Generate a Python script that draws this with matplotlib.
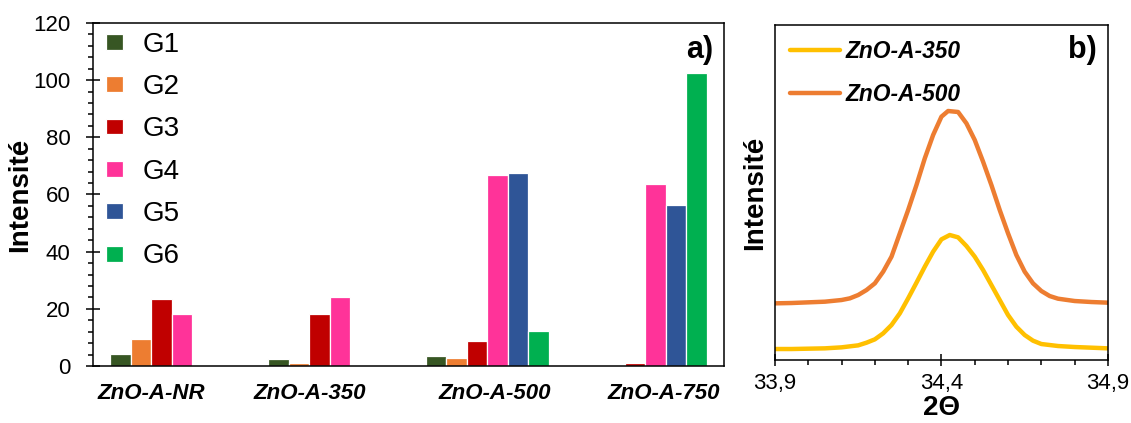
import numpy as np
import matplotlib
matplotlib.use('Agg')
import matplotlib.pyplot as plt
from matplotlib.ticker import MultipleLocator

plt.rcParams['font.family'] = ['Liberation Sans', 'DejaVu Sans']

# ---- data, panel a)
samples = ['ZnO-A-NR', 'ZnO-A-350', 'ZnO-A-500', 'ZnO-A-750']
groups = ['G1', 'G2', 'G3', 'G4', 'G5', 'G6']
g1 = [4.2, 2.3, 3.5, 0]
g2 = [9.5, 1.0, 2.9, 0]
g3 = [23.3, 18.1, 8.9, 1.0]
g4 = [18.1, 24.0, 66.9, 63.6]
g5 = [0, 0, 67.5, 56.3]
g6 = [0, 0, 12.1, 102.5]
bar_colors = ['#375623', '#ED7D31', '#C00000', '#FF3399', '#2F5597', '#00B050']

# ---- data, panel b) (arbitrary intensity units)
x350 = [33.90, 33.95, 34.00, 34.05, 34.10, 34.15, 34.175, 34.20, 34.225, 34.25, 34.275,
        34.30, 34.325, 34.35, 34.375, 34.40, 34.425, 34.45, 34.475, 34.50, 34.525, 34.55,
        34.575, 34.60, 34.625, 34.65, 34.675, 34.70, 34.75, 34.80, 34.85, 34.90]
y350 = [3.3, 3.3, 3.4, 3.5, 3.8, 4.4, 5.2, 6.2, 8.0, 10.5, 14.0,
        18.5, 23.2, 28.0, 32.5, 36.2, 37.5, 36.8, 34.2, 31.0, 27.0, 22.5,
        18.0, 13.5, 10.0, 7.5, 5.8, 4.8, 4.2, 3.9, 3.7, 3.5]
x500 = [33.90, 33.95, 34.00, 34.05, 34.10, 34.125, 34.15, 34.175, 34.20, 34.225, 34.25,
        34.275, 34.30, 34.325, 34.35, 34.375, 34.40, 34.42, 34.45, 34.475, 34.50, 34.525,
        34.55, 34.575, 34.60, 34.625, 34.65, 34.675, 34.70, 34.725, 34.75, 34.80, 34.85, 34.90]
y500 = [17.0, 17.1, 17.3, 17.5, 18.0, 18.5, 19.5, 21.0, 23.0, 26.5, 31.0,
        38.0, 45.0, 52.5, 60.5, 67.5, 73.0, 74.7, 74.4, 71.0, 66.0, 59.5,
        52.5, 45.0, 38.0, 31.5, 26.5, 23.0, 20.7, 19.2, 18.4, 17.7, 17.4, 17.2]

fig = plt.figure(figsize=(11.31, 4.23), dpi=100)

#### panel a)
ax = fig.add_axes([0.0822, 0.1348, 0.5579, 0.8109])
series = [g1, g2, g3, g4, g5, g6]
xc = np.arange(len(samples))
w = 0.13
for i, vals in enumerate(series):
    ax.bar(xc + (i - 2.5) * w, vals, width=w, color=bar_colors[i],
           edgecolor='white', linewidth=0.9, label=groups[i])

ax.set_xlim(-0.5, 3.5)
ax.set_ylim(0, 120)
ax.yaxis.set_major_locator(MultipleLocator(20))
ax.yaxis.set_minor_locator(MultipleLocator(4))
ax.tick_params(axis='y', which='major', direction='inout', length=10, width=1.1, labelsize=16, pad=11)
ax.tick_params(axis='y', which='minor', direction='out', length=3.5, width=1.1)
# labels were placed by hand in the original, not exactly under the groups
label_shift = [-0.129, -0.125, 0.048, 0.12]
ax.set_xticks(xc + np.array(label_shift))
ax.set_xticklabels(samples, fontsize=16, fontweight='bold', fontstyle='italic')
ax.tick_params(axis='x', length=0, pad=12)
for s in ax.spines.values():
    s.set_linewidth(1.1)
ax.set_ylabel('Intensité', fontsize=20, fontweight='bold')
ax.yaxis.set_label_coords(-0.095, 0.5)

ax.legend(loc='upper left', bbox_to_anchor=(0.02, 0.975), frameon=False, fontsize=20,
          handlelength=0.61, handleheight=0.5, handletextpad=0.72, labelspacing=0.59,
          borderpad=0, borderaxespad=0)
ax.text(0.983, 0.921, 'a)', transform=ax.transAxes, ha='right', va='center',
        fontsize=22, fontweight='bold')

#### panel b)
ax2 = fig.add_axes([0.6852, 0.1489, 0.2944, 0.7920])
ax2.plot(x350, y350, color='#FFC000', lw=3.2, label='ZnO-A-350', solid_capstyle='round')
ax2.plot(x500, y500, color='#ED7D31', lw=3.2, label='ZnO-A-500', solid_capstyle='round')
ax2.set_xlim(33.9, 34.9)
ax2.set_ylim(0, 100.5)
ax2.set_yticks([])
ax2.set_xticks([33.9, 34.4, 34.9])
ax2.set_xticklabels(['33,9', '34,4', '34,9'])
ax2.xaxis.set_minor_locator(MultipleLocator(0.1))
ax2.tick_params(axis='x', which='major', direction='inout', length=9, width=1.1, labelsize=16, pad=5)
ax2.tick_params(axis='x', which='minor', direction='out', length=3.5, width=1.1)
for s in ax2.spines.values():
    s.set_linewidth(1.1)
ax2.set_ylabel('Intensité', fontsize=20, fontweight='bold')
ax2.yaxis.set_label_coords(-0.021, 0.5)
ax2.set_xlabel('2Θ', fontsize=20, fontweight='bold')
ax2.xaxis.set_label_coords(0.5, -0.104)

ax2.legend(loc='upper left', bbox_to_anchor=(0.045, 0.955), frameon=False,
           handlelength=2.2, handletextpad=0.22, labelspacing=0.89,
           borderpad=0, borderaxespad=0,
           prop={'size': 16.4, 'weight': 'bold', 'style': 'italic'})
ax2.text(0.967, 0.925, 'b)', transform=ax2.transAxes, ha='right', va='center',
         fontsize=22, fontweight='bold')

plt.savefig('out.png', dpi=100)
